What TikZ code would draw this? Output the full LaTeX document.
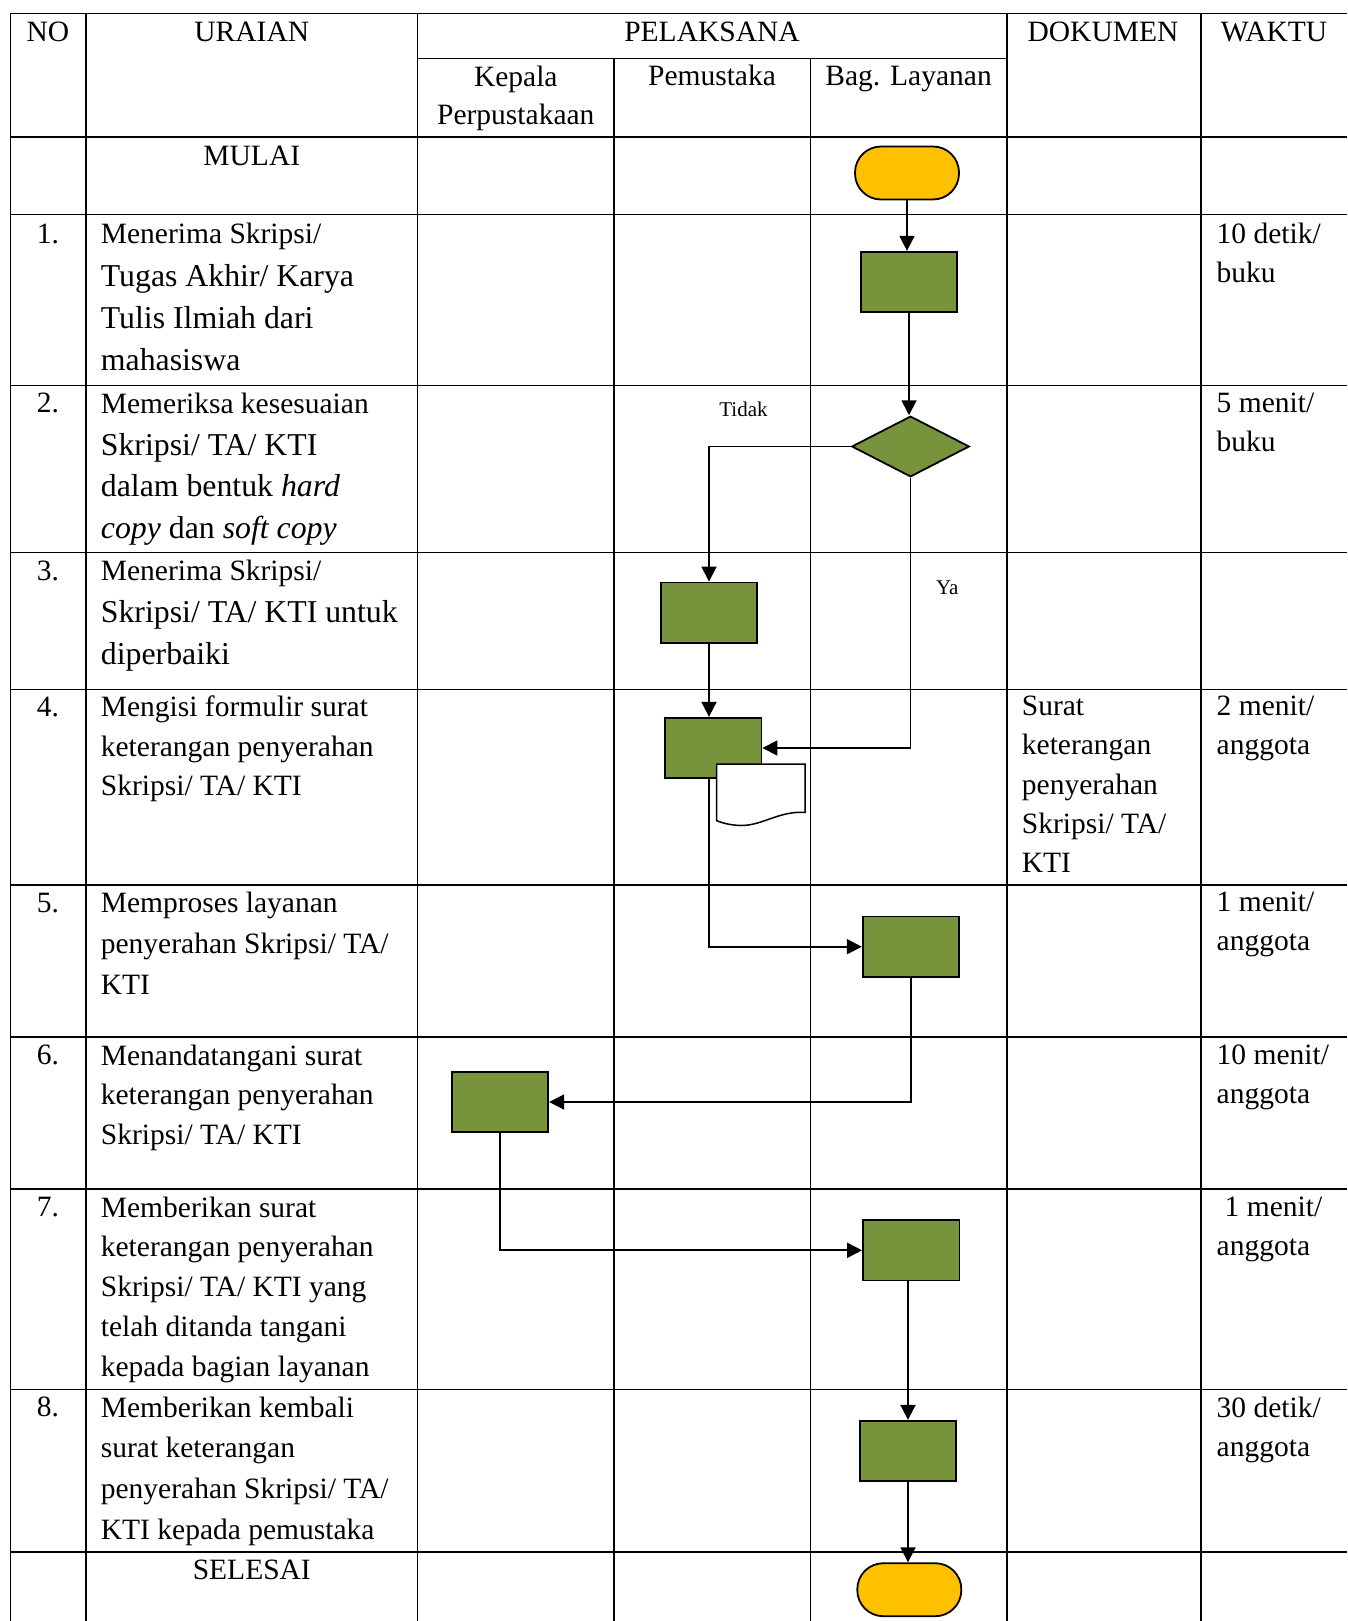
\documentclass[tikz,border=0pt]{standalone}
\usepackage{fontspec}
\setmainfont{Liberation Serif}
\usetikzlibrary{arrows.meta,shapes.geometric}
\definecolor{fcgreen}{RGB}{119,147,60}
\definecolor{fcgold}{RGB}{255,192,0}
% continuation lines of rows 1--3 are set a size larger
\newcommand{\lgr}{\fontsize{31.8}{42}\selectfont}

\begin{document}
\begin{tikzpicture}[x=1pt, y=-1pt,
    grid/.style={line width=1.2pt},
    cell/.style={anchor=north west, yshift=20.1pt, align=left, inner sep=0pt, font=\fontsize{29.5}{#1}\selectfont},
    cell/.default=41,
    num/.style={anchor=base, inner sep=0pt, font=\fontsize{29.5}{36}\selectfont},
    head/.style={anchor=base, align=center, inner sep=0pt, font=\fontsize{29.5}{38.3}\selectfont},
    lbl/.style={anchor=base, inner sep=0pt, font=\fontsize{21}{25}\selectfont},
    proc/.style={draw, line width=1.8pt, fill=fcgreen, minimum width=96.5pt, minimum height=60.5pt, inner sep=0pt},
    term/.style={draw, line width=1.8pt, fill=fcgold, rounded corners=26pt, minimum width=104pt, minimum height=53pt, inner sep=0pt},
    dec/.style={diamond, draw, line width=1.8pt, fill=fcgreen, minimum width=117.6pt, minimum height=60.7pt, inner sep=0pt},
    flow/.style={line width=1.8pt, -{Triangle[length=15pt,width=15pt]}}]
  \useasboundingbox (0,0) rectangle (1347,1621);

  % table rules
  \foreach \y in {13.3,137,214.3,385.3,552.5,689.3,885,1037,1189,1389.3,1552}
    \draw[grid] (10.3,\y) -- (1347,\y);
  \draw[grid] (417.5,58.3) -- (1007,58.3);
  \foreach \x in {10.3,86,417.5,1007,1201}
    \draw[grid] (\x,13.3) -- (\x,1621);
  \foreach \x in {614,810.3}
    \draw[grid] (\x,58.3) -- (\x,1621);

  % header
  \node[head] (hno)  at (48,41.7)     {NO};
  \node[head] (hur)  at (251.8,41.7)  {URAIAN};
  \node[head] (hpel) at (712,41.7)    {PELAKSANA};
  \node[head] (hdok) at (1103,41.7)   {DOKUMEN};
  \node[head] (hwak) at (1274,41.7)   {WAKTU};
  \node[head, anchor=north, yshift=20.1pt] (hkep) at (515.8,85.7) {Kepala\\Perpustakaan};
  \node[head] (hpem) at (712,85.7)    {Pemustaka};
  \node[head] (hbag) at (908.6,85.7)  {Bag. Layanan};

  \node[head] (mulai)   at (251.8,165.7) {MULAI};
  \node[head] (selesai) at (251.8,1579)  {SELESAI};

  % rows
  \node[num] (n1) at (48,243.3) {1.};
  \node[cell=42.3] (u1) at (100.7,243.3) {Menerima Skripsi/\\\lgr Tugas Akhir/ Karya\\\lgr Tulis Ilmiah dari\\\lgr mahasiswa};
  \node[cell=38.8] (w1) at (1216.5,243.3) {10 detik/\\buku};

  \node[num] (n2) at (48,412.7) {2.};
  \node[cell=41.8] (u2) at (100.7,412.7) {Memeriksa kesesuaian\\\lgr Skripsi/ TA/ KTI\\\lgr dalam bentuk \textit{hard}\\\lgr \textit{copy} dan \textit{soft copy}};
  \node[cell=38.8] (w2) at (1216.5,412.7) {5 menit/\\buku};

  \node[num] (n3) at (48,580) {3.};
  \node[cell=42] (u3) at (100.7,580) {Menerima Skripsi/\\\lgr Skripsi/ TA/ KTI untuk\\\lgr diperbaiki};

  \node[num] (n4) at (48,716) {4.};
  \node[cell=39.3] (u4) at (100.7,716) {Mengisi formulir surat\\keterangan penyerahan\\Skripsi/ TA/ KTI};
  \node[cell=39.3] (d4) at (1021.7,716) {Surat\\keterangan\\penyerahan\\Skripsi/ TA/\\KTI};
  \node[cell=38.8] (w4) at (1216.5,716) {2 menit/\\anggota};

  \node[num] (n5) at (48,912) {5.};
  \node[cell=40.8] (u5) at (100.7,912) {Memproses layanan\\penyerahan Skripsi/ TA/\\KTI};
  \node[cell=39.3] (w5) at (1216.5,912) {1 menit/\\anggota};

  \node[num] (n6) at (48,1064.5) {6.};
  \node[cell=39.8] (u6) at (100.7,1064.5) {Menandatangani surat\\keterangan penyerahan\\Skripsi/ TA/ KTI};
  \node[cell=39.3] (w6) at (1216.5,1064.5) {10 menit/\\anggota};

  \node[num] (n7) at (48,1216.5) {7.};
  \node[cell=39.8] (u7) at (100.7,1216.5) {Memberikan surat\\keterangan penyerahan\\Skripsi/ TA/ KTI yang\\telah ditanda tangani\\kepada bagian layanan};
  \node[cell=39.3] (w7) at (1216.5,1216.5) {\hspace{8pt}1 menit/\\anggota};

  \node[num] (n8) at (48,1416.5) {8.};
  \node[cell=40.7] (u8) at (100.7,1416.5) {Memberikan kembali\\surat keterangan\\penyerahan Skripsi/ TA/\\KTI kepada pemustaka};
  \node[cell=39.3] (w8) at (1216.5,1416.5) {30 detik/\\anggota};

  % flow
  \node[term] (start) at (907,173) {};
  \node[proc] (p1) at (909,282) {};
  \node[dec]  (cek) at (910.5,446.5) {};
  \node[proc] (p3) at (709,612.7) {};
  \node[proc] (p4) at (713.3,748) {};
  \node[proc] (p5) at (911,946.7) {};
  \node[proc] (p6) at (500,1102) {};
  \node[proc] (p7) at (911.2,1250.3) {};
  \node[proc] (p8) at (908,1451) {};
  \node[term] (stop) at (909.3,1589.7) {};

  % document symbol over step 4
  \draw[line width=1.5pt, fill=white] (716.7,764) -- (805,764) -- (805,812.3)
    .. controls (778,811) and (762,826) .. (740,825.5)
    .. controls (730,825) and (722,823) .. (716.7,820.7) -- cycle;

  \node[lbl] (tidak) at (743.5,416.7) {Tidak};
  \node[lbl] (ya)    at (947.3,594)   {Ya};

  \draw[flow] (start.south) -- (start.south |- p1.north);
  \draw[flow] (p1.south) -- (p1.south |- cek.north);
  \draw[flow] (cek.west) -| (p3.north);
  \draw[flow] (p3.south) -- (p3.south |- p4.north);
  \draw[flow] (cek.south) |- (p4.east);
  \draw[flow] (p4.south -| p3.south) |- (p5.west);
  \draw[flow] (p5.south) |- (p6.east);
  \draw[flow] (p6.south) |- (p7.west);
  \draw[flow] (p8.north |- p7.south) -- (p8.north);
  \draw[flow] (p8.south) -- (p8.south |- stop.north);
\end{tikzpicture}
\end{document}
